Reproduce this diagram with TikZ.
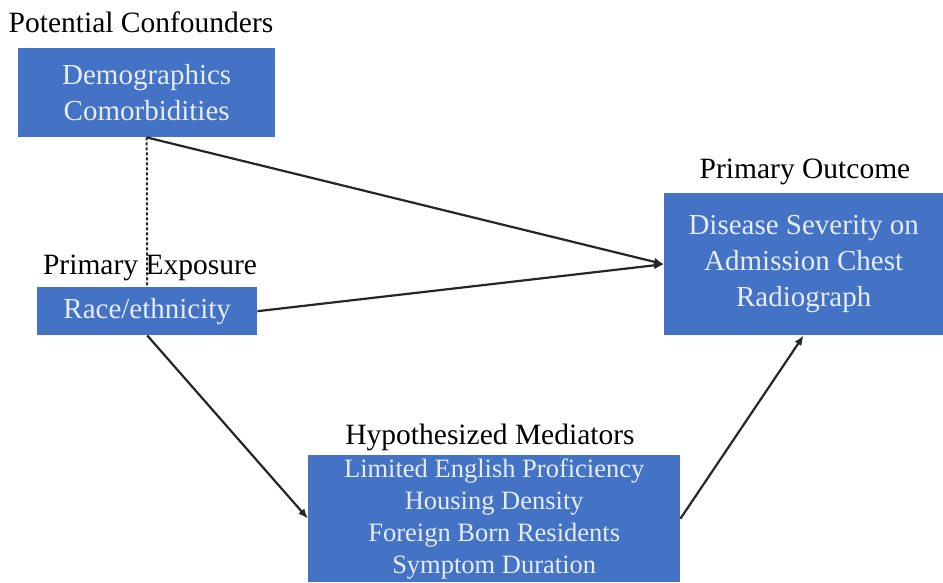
\documentclass[tikz,border=0pt]{standalone}
\usepackage{fontspec}
\setmainfont{Liberation Serif}
\usetikzlibrary{arrows.meta}
\newlength{\du}
\setlength{\du}{1pt}
\definecolor{boxcolor}{rgb}{0.267, 0.447, 0.769}
\definecolor{boxtextcolor}{rgb}{0.900, 0.930, 0.980}
\begin{document}
\begin{tikzpicture}[
  box/.style={fill=boxcolor, text=boxtextcolor, inner sep=0pt, align=center,
    anchor=north west, font=\fontsize{29}{36}\selectfont},
  heading/.style={inner sep=0pt, font=\fontsize{29.5}{30}\selectfont},
  link/.style={line width=2.2pt, draw=black!85, -{Latex[length=10pt,width=8pt]}},
  confound/.style={line width=2pt, draw=black!85, dash pattern=on 3pt off 2pt},
]
\pgftransformxscale{1.000000}
\pgftransformyscale{-1.000000}
\useasboundingbox (0\du,0\du) rectangle (943\du,582\du);
% boxes
\node[box, minimum width=257\du, minimum height=89\du] (conf) at (18\du,48\du) {Demographics\\Comorbidities};
\node[box, minimum width=220\du, minimum height=48\du] (race) at (37\du,287\du) {Race/ethnicity};
\node[box, minimum width=279\du, minimum height=142\du] (outcome) at (664\du,193\du) {Disease Severity on\\Admission Chest\\Radiograph};
\node[box, minimum width=372\du, minimum height=127\du, font=\fontsize{26.5}{32}\selectfont] (med) at (308\du,455\du) {Limited English Proficiency\\Housing Density\\Foreign Born Residents\\Symptom Duration};
% headings
\node[heading] (confhead) at (141\du,22\du) {Potential Confounders};
\node[heading] (racehead) at (150\du,268\du) {Primary Exposure};
\node[heading] (outhead) at (805\du,172\du) {Primary Outcome};
\node[heading] (medhead) at (490\du,437\du) {Hypothesized Mediators};
% connectors
\draw[confound] (conf.south) -- (race.north);
\draw[link] (conf.south) -- (outcome.west);
\draw[link] (race.east) -- (outcome.west);
\draw[link] (race.south) -- (med.west);
\draw[link] (med.east) -- (outcome.south);
\end{tikzpicture}
\end{document}
